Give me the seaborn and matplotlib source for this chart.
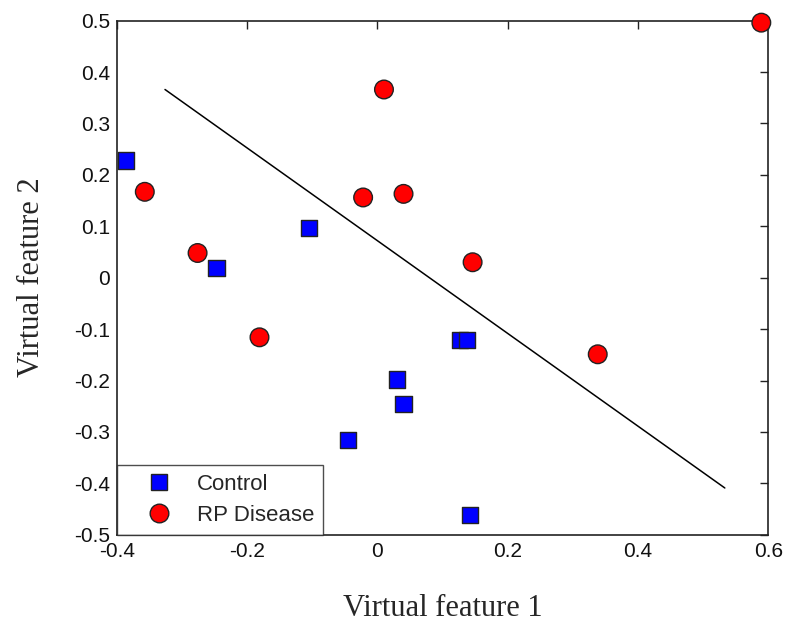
import numpy as np
import pandas as pd
import matplotlib
matplotlib.use("Agg")
import matplotlib.pyplot as plt
import seaborn as sns
from matplotlib.ticker import FuncFormatter

# values
control_x = [-0.386, -0.247, -0.105, 0.030, 0.040, -0.045, 0.127, 0.138, 0.142]
control_y = [0.228, 0.018, 0.097, -0.198, -0.246, -0.316, -0.121, -0.121, -0.462]
disease_x = [-0.357, -0.276, 0.010, -0.022, 0.040, 0.146, 0.589, -0.181, 0.338]
disease_y = [0.167, 0.048, 0.366, 0.156, 0.163, 0.030, 0.496, -0.116, -0.149]
boundary_x = [-0.326, 0.533]
boundary_y = [0.366, -0.409]
groups = ["Control", "RP Disease"]

df = pd.DataFrame({
    "f1": control_x + disease_x,
    "f2": control_y + disease_y,
    "group": [groups[0]] * len(control_x) + [groups[1]] * len(disease_x),
})

sns.set_style("white")
plt.rcParams["font.family"] = ["Liberation Sans", "DejaVu Sans"]

fig, ax = plt.subplots(figsize=(7.89, 6.24), dpi=100)
fig.subplots_adjust(left=0.148, right=0.974, top=0.967, bottom=0.143)

ax.plot(boundary_x, boundary_y, color="black", lw=1.1, zorder=1)

sns.scatterplot(data=df, x="f1", y="f2", hue="group", style="group",
                size="group",
                hue_order=groups, style_order=groups, size_order=groups,
                palette={"Control": "#0000ff", "RP Disease": "#ff0000"},
                markers={"Control": "s", "RP Disease": "o"},
                sizes={"Control": 135, "RP Disease": 180},
                edgecolor="#222222", linewidth=1.0, ax=ax, zorder=3,
                clip_on=False)

ax.set_xlim(-0.4, 0.6)
ax.set_ylim(-0.5, 0.5)
ax.set_xticks(np.arange(-0.4, 0.61, 0.2))
ax.set_yticks(np.arange(-0.5, 0.51, 0.1))
fmt = FuncFormatter(lambda v, p: "0" if abs(v) < 1e-9 else f"{v:g}")
ax.xaxis.set_major_formatter(fmt)
ax.yaxis.set_major_formatter(fmt)
ax.tick_params(direction="in", length=6, width=1, labelsize=15,
               top=True, right=True, pad=5, colors="#222222",
               labelcolor="#111111")
for sp in ax.spines.values():
    sp.set_color("#222222")
    sp.set_linewidth(1.2)

ax.set_xlabel("Virtual feature 1", fontsize=22, family="Liberation Serif",
              labelpad=24)
ax.set_ylabel("Virtual feature 2", fontsize=22, family="Liberation Serif",
              labelpad=20)

leg = ax.legend(loc="lower left", borderaxespad=0, fancybox=False,
                frameon=True, fontsize=16,
                handletextpad=0.2, borderpad=0.4, labelspacing=0.45,
                handlelength=3.0)
leg.get_frame().set_edgecolor("#222222")
leg.get_frame().set_linewidth(1.0)
leg.set_zorder(5)

fig.savefig("out.png", dpi=100)
